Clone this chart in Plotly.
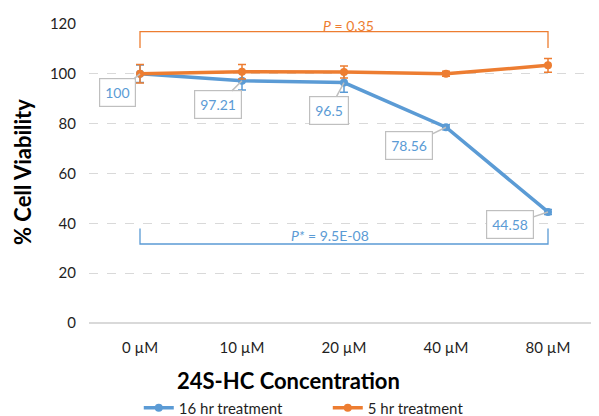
import plotly.graph_objects as go

categories = ["0 µM", "10 µM", "20 µM", "40 µM", "80 µM"]
hr16_values = [100, 97.21, 96.5, 78.56, 44.58]
hr16_err = [3.5, 3.7, 3.9, 1.0, 1.0]
hr5_values = [100, 100.8, 100.7, 100.0, 103.4]
hr5_err = [3.7, 2.9, 2.4, 1.0, 2.8]
hr16_labels = ["100", "97.21", "96.5", "78.56", "44.58"]
y_ticks = [0, 20, 40, 60, 80, 100, 120]

BLUE = "#5B9BD5"
ORANGE = "#ED7D31"
TEXT = "#1F1F1F"
FONT = "Lato"

idx = list(range(len(categories)))

fig = go.Figure()
fig.add_trace(go.Scatter(
    x=idx, y=hr16_values, name="16 hr treatment", mode="lines+markers",
    line=dict(color=BLUE, width=3.5), marker=dict(size=8, color=BLUE),
    error_y=dict(type="data", array=hr16_err, color=BLUE, thickness=1.5, width=4),
))
fig.add_trace(go.Scatter(
    x=idx, y=hr5_values, name="5 hr treatment", mode="lines+markers",
    line=dict(color=ORANGE, width=3.5), marker=dict(size=8, color=ORANGE),
    error_y=dict(type="data", array=hr5_err, color=ORANGE, thickness=1.5, width=4),
))

# data label callouts
offsets = [(-23, 19), (-24, 24), (-15, 28), (-37, 18), (-38, 13)]
for i, (lab, (ax, ay)) in enumerate(zip(hr16_labels, offsets)):
    fig.add_annotation(
        x=idx[i], y=hr16_values[i], xref="x", yref="y", text=lab,
        showarrow=True, ax=ax, ay=ay, arrowhead=0, arrowwidth=1.5,
        arrowcolor="#BFBFBF", standoff=0,
        bordercolor="#BFBFBF", borderwidth=1.2, bgcolor="white", borderpad=5,
        font=dict(family=FONT, size=14, color=BLUE),
    )

# significance brackets
fig.add_shape(type="path", xref="x", yref="y",
              path="M 0,110.4 L 0,116.9 L 4,116.9 L 4,110.4",
              line=dict(color=ORANGE, width=1.3))
fig.add_shape(type="path", xref="x", yref="y",
              path="M 0,37.9 L 0,31.7 L 4,31.7 L 4,37.9",
              line=dict(color=BLUE, width=1.3))
fig.add_annotation(x=2.04, y=119.6, xref="x", yref="y", showarrow=False,
                   text="<i>P</i> = 0.35",
                   font=dict(family=FONT, size=14, color=ORANGE))
fig.add_annotation(x=1.86, y=35.0, xref="x", yref="y", showarrow=False,
                   text="<i>P*</i> = 9.5E-08",
                   font=dict(family=FONT, size=14, color=BLUE))

# axis titles (page body has an 8px margin; figure is sized to compensate)
fig.add_annotation(x=(288 - 89) / 510, y=(323 - 380) / 299, xref="paper", yref="paper",
                   xanchor="center", yanchor="middle",
                   showarrow=False, text="<b>24S-HC Concentration</b>",
                   font=dict(family=FONT, size=22, color="black"))
fig.add_annotation(x=(22 - 89) / 510, y=(323 - 172) / 299, xref="paper", yref="paper",
                   xanchor="center", yanchor="middle",
                   showarrow=False, text="<b>% Cell Viability</b>", textangle=-90,
                   font=dict(family=FONT, size=22, color="black"))

fig.update_layout(
    width=591, height=408,
    margin=dict(l=81, r=0, t=16, b=93, autoexpand=False),
    paper_bgcolor="white", plot_bgcolor="white",
    font=dict(family=FONT, size=15, color=TEXT),
    showlegend=True,
    legend=dict(orientation="h", x=0.0976, xanchor="left",
                yref="paper", y=(323 - 408) / 299, yanchor="middle",
                font=dict(family=FONT, size=15, color=TEXT),
                entrywidth=144, itemwidth=30),
    xaxis=dict(range=[-0.5, 4.5], tickvals=idx, ticktext=categories,
               showgrid=False, zeroline=False, showline=False, ticks="",
               automargin=False, ticklabelstandoff=14,
               tickfont=dict(family=FONT, size=15, color=TEXT)),
    yaxis=dict(range=[0, 120], tickvals=y_ticks, showgrid=True,
               gridcolor="#D9D9D9", griddash="dash", gridwidth=1.3,
               zeroline=True, zerolinecolor="#D9D9D9", zerolinewidth=1.5,
               showline=False, ticks="", ticklabelstandoff=12, automargin=False,
               tickfont=dict(family=FONT, size=15, color=TEXT)),
)

fig.write_html("out.html")
